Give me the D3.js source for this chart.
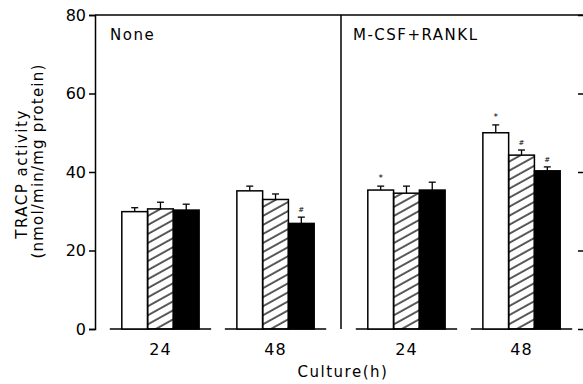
<!DOCTYPE html>
<html>
<head>
<meta charset="utf-8">
<title>TRACP activity</title>
<script src="https://cdn.jsdelivr.net/npm/d3@7/dist/d3.min.js"></script>
<style>
* { margin: 0; padding: 0; }
body { background: #fff; }
text { font-family: "DejaVu Sans", sans-serif; fill: #000; }
</style>
</head>
<body>
<svg width="583" height="384" id="chart"></svg>
<script>
// data
var panels = ["None", "M-CSF+RANKL"];
var times = ["24", "48"];
var series = ["open", "hatched", "solid"];
var noneMeans = [[29.9, 30.6, 30.3], [35.2, 33.0, 26.9]];
var noneErrs  = [[1.0, 1.7, 1.5], [1.2, 1.4, 1.6]];
var mrMeans   = [[35.4, 34.6, 35.4], [50.0, 44.3, 40.3]];
var mrErrs    = [[1.0, 1.8, 2.0], [2.0, 1.3, 1.0]];
var noneMarks = [["", "", ""], ["", "", "#"]];
var mrMarks   = [["*", "", ""], ["*", "#", "#"]];
var yTicks = [0, 20, 40, 60, 80];

var means = [noneMeans, mrMeans], errs = [noneErrs, mrErrs], marks = [noneMarks, mrMarks];

var svg = d3.select("#chart");
var mLeft = 95, mRight = 587, mTop = 15, mBottom = 329;

var y = d3.scaleLinear().domain([0, 80]).range([mBottom, mTop]);
var xPanel = d3.scaleBand().domain(panels).range([mLeft, mRight]);
var xTime = d3.scaleBand().domain(times).range([0, xPanel.bandwidth()])
	.paddingInner(0.328).paddingOuter(0.233);
var xSer = d3.scaleBand().domain(series).range([0, xTime.bandwidth()]);

// hatch
var defs = svg.append("defs");
defs.append("pattern").attr("id", "hatch").attr("patternUnits", "userSpaceOnUse")
	.attr("width", 10).attr("height", 7.9).attr("patternTransform", "rotate(-29)")
	.append("line").attr("x1", -1).attr("x2", 11).attr("y1", 4).attr("y2", 4)
	.attr("stroke", "#000").attr("stroke-width", 1.3);

var fills = { open: "#fff", hatched: "url(#hatch)", solid: "#000" };

// frame
svg.append("line").attr("x1", mLeft).attr("x2", mRight).attr("y1", mTop).attr("y2", mTop)
	.attr("stroke", "#000").attr("stroke-width", 1.5);
svg.append("line").attr("x1", xPanel(panels[1])).attr("x2", xPanel(panels[1]))
	.attr("y1", mTop).attr("y2", mBottom).attr("stroke", "#000").attr("stroke-width", 1.5);

var yAxis = svg.append("g").attr("transform", "translate(" + mLeft + ",0)")
	.call(d3.axisLeft(y).tickValues(yTicks).tickSize(6).tickPadding(3));
yAxis.select(".domain").attr("stroke-width", 1.5);
yAxis.selectAll(".tick line").attr("stroke-width", 1.5);
yAxis.selectAll("text").style("font-size", "16px").attr("font-family", null);

var rAxis = svg.append("g").attr("transform", "translate(" + mRight + ",0)")
	.call(d3.axisLeft(y).tickValues(yTicks).tickSize(9).tickFormat(""));
rAxis.selectAll(".tick line").attr("stroke-width", 1.5);

panels.forEach(function(p, pi) {
	var g = svg.append("g").attr("transform", "translate(" + xPanel(p) + ",0)");
	g.append("text").attr("x", pi == 0 ? 15 : 12).attr("y", 40)
		.style("font-size", "15px").style("letter-spacing", "1.5px").text(p);

	times.forEach(function(t, ti) {
		var gx = xTime(t);
		var gg = g.append("g").attr("transform", "translate(" + gx + ",0)");
		// baseline piece
		gg.append("line").attr("x1", -12).attr("x2", xTime.bandwidth() + 12)
			.attr("y1", y(0)).attr("y2", y(0)).attr("stroke", "#000").attr("stroke-width", 1.5);

		var rows = series.map(function(s, si) {
			return { s: s, v: means[pi][ti][si], e: errs[pi][ti][si], m: marks[pi][ti][si] };
		});

		// error bars
		rows.forEach(function(d) {
			var cx = xSer(d.s) + xSer.bandwidth() / 2;
			gg.append("line").attr("x1", cx).attr("x2", cx).attr("y1", y(d.v)).attr("y2", y(d.v + d.e))
				.attr("stroke", "#000").attr("stroke-width", 1.3);
			gg.append("line").attr("x1", cx - 3.5).attr("x2", cx + 3.5).attr("y1", y(d.v + d.e)).attr("y2", y(d.v + d.e))
				.attr("stroke", "#000").attr("stroke-width", 1.3);
			if (d.m) {
				gg.append("text").attr("x", cx).attr("y", y(d.v + d.e) - 5)
					.attr("text-anchor", "middle").style("font-size", d.m == "*" ? "9px" : "7px").text(d.m);
			}
		});

		gg.selectAll("rect").data(rows).enter().append("rect")
			.attr("x", function(d) { return xSer(d.s); })
			.attr("y", function(d) { return y(d.v); })
			.attr("width", xSer.bandwidth())
			.attr("height", function(d) { return y(0) - y(d.v); })
			.attr("fill", function(d) { return fills[d.s]; })
			.attr("stroke", "#000").attr("stroke-width", 1.5);

		gg.append("text").attr("x", xTime.bandwidth() / 2).attr("y", 355)
			.attr("text-anchor", "middle").style("font-size", "16px").style("letter-spacing", "1px").text(t);
	});
});

svg.append("text").attr("x", 343).attr("y", 377).attr("text-anchor", "middle")
	.style("font-size", "15px").style("letter-spacing", "1.5px").text("Culture(h)");

svg.append("text").attr("transform", "translate(27,174) rotate(-90)").attr("text-anchor", "middle")
	.style("font-size", "15px").style("letter-spacing", "1.5px").text("TRACP activity");
svg.append("text").attr("transform", "translate(43,161) rotate(-90)").attr("text-anchor", "middle")
	.style("font-size", "15px").style("letter-spacing", "1.2px").text("(nmol/min/mg protein)");
</script>
</body>
</html>
